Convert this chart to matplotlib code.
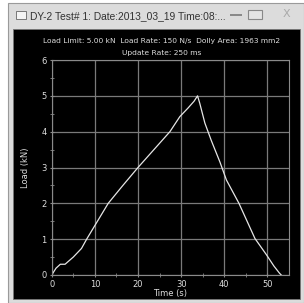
import numpy as np
import matplotlib
matplotlib.use('Agg')
import matplotlib.pyplot as plt
from matplotlib.patches import Rectangle

# data
time_s = [0, 1.0, 2.0, 3.1, 5.0, 6.9, 8.1, 10.0, 13.1, 16.5, 20.0, 23.7,
          27.4, 29.7, 31.6, 33.0, 33.8, 34.3, 35.5, 37.0, 39.0, 40.5,
          43.4, 47.1, 49.8, 51.5, 52.8, 53.2]
load_kn = [0, 0.19, 0.30, 0.30, 0.50, 0.74, 1.00, 1.38, 2.00, 2.50, 3.00, 3.50,
           4.00, 4.42, 4.66, 4.85, 5.00, 4.80, 4.24, 3.75, 3.15, 2.65,
           2.00, 1.02, 0.56, 0.25, 0.05, 0.0]

title = 'DY-2 Test# 1: Date:2013_03_19 Time:08:...'
header1 = 'Load Limit: 5.00 kN  Load Rate: 150 N/s  Dolly Area: 1963 mm2'
header2 = 'Update Rate: 250 ms'

W, H = 304, 303
fig = plt.figure(figsize=(W / 100, H / 100), dpi=100)
fig.patch.set_facecolor('white')

def px(x0, y0, w, h):
    # pixel box (top-left origin) -> figure fraction
    return (x0 / W, 1 - (y0 + h) / H, w / W, h / H)

def box(x0, y0, w, h, **kw):
    x, y, w, h = px(x0, y0, w, h)
    fig.patches.append(Rectangle((x, y), w, h, transform=fig.transFigure,
                                 zorder=-5, **kw))

# window frame and black client area
box(8, 3, 296, 300, facecolor='#dcdcdc', edgecolor='#9a9a9a', lw=0.8)
box(13, 29, 287, 270, facecolor='black', edgecolor='#777777', lw=0.6)
# small icon in title bar
box(16, 11, 10, 8, facecolor='#f4f4f4', edgecolor='#666666', lw=0.6)
# title bar buttons: minimise, maximise, close
box(230, 14, 12, 2, facecolor='#8a8a8a', edgecolor='none')
box(248, 10, 14, 9, facecolor='#e4e4e4', edgecolor='#888888', lw=0.8)
fig.text(286 / W, 1 - 14 / H, 'X', color='#aaaaaa', fontsize=8,
         ha='center', va='center')

fig.text(30 / W, 1 - 16 / H, title, color='#333333', fontsize=7.4,
         family='Liberation Sans', ha='left', va='center')
fig.text(162 / W, 1 - 41 / H, header1, color='#dddddd', fontsize=5.4,
         ha='center', va='center')
fig.text(162 / W, 1 - 53 / H, header2, color='#dddddd', fontsize=5.4,
         ha='center', va='center')

ax = fig.add_axes([51.7 / W, 1 - 275 / H, (289 - 51.7) / W, (275 - 60) / H])
ax.set_facecolor('black')
ax.plot(time_s, load_kn, color='#e6e6e6', lw=0.9)

ax.set_xlim(0, 55)
ax.set_ylim(0, 6)
ax.set_xticks([0, 10, 20, 30, 40, 50])
ax.set_yticks(range(7))
ax.set_xticks(np.arange(5, 55, 10), minor=True)
ax.set_yticks(np.arange(0.5, 6, 1), minor=True)
ax.grid(True, color='#7a7a7a', lw=0.9)
for s in ax.spines.values():
    s.set_color('#8a8a8a')
ax.tick_params(which='both', colors='#8a8a8a', labelcolor='#dddddd',
               labelsize=6, direction='inout', length=3, pad=2)
ax.set_xlabel('Time (s)', color='#dddddd', fontsize=6, labelpad=0)
ax.set_ylabel('Load (kN)', color='#dddddd', fontsize=6, labelpad=8)

fig.savefig('out.png', dpi=100, facecolor=fig.get_facecolor())
